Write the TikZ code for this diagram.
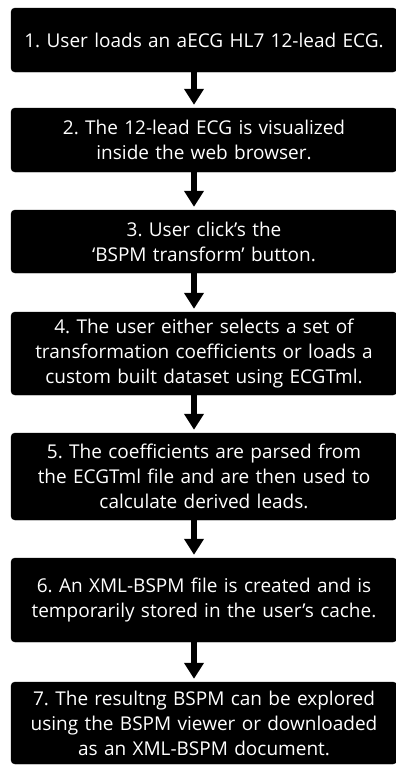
\documentclass[tikz,border=0pt]{standalone}
\usepackage{fontspec}
\setmainfont{Open Sans}
\usepackage{tikz}
\usetikzlibrary{arrows.meta}

\tikzset{
  stepbox/.style={rectangle,rounded corners=4pt,fill=black,draw=black,text=white,
    minimum width=386pt,text width=376pt,align=center,inner sep=0pt,
    font=\fontsize{19}{25}\selectfont\frenchspacing},
  flowarrow/.style={draw=black,line width=6.5pt,
    -{Triangle[width=19pt,length=16pt]},shorten >=3pt}
}

\begin{document}
\begin{tikzpicture}[x=1pt,y=1pt]
\useasboundingbox (0,0) rectangle (396,-766);
\node[stepbox,minimum height=64pt] (s1) at (204,-40) {1. User loads an aECG HL7 12-lead ECG.};
\node[stepbox,minimum height=64pt] (s2) at (204,-140) {2. The 12-lead ECG is visualized\\inside the web browser.};
\node[stepbox,minimum height=63pt] (s3) at (204,-241.5) {3. User click's the\\`BSPM transform' button.};
\node[stepbox,minimum height=83pt] (s4) at (204,-353.5) {4. The user either selects a set of\\transformation coefficients or loads a\\custom built dataset using ECGTml.};
\node[stepbox,minimum height=87pt] (s5) at (204,-476.5) {5. The coefficients are parsed from\\the ECGTml file and are then used to\\calculate derived leads.};
\node[stepbox,minimum height=84pt] (s6) at (204,-600) {6. An XML-BSPM file is created and is\\temporarily stored in the user's cache.};
\node[stepbox,minimum height=82pt] (s7) at (204,-723) {7. The resultng BSPM can be explored\\using the BSPM viewer or downloaded\\as an XML-BSPM document.};
% arrows between the steps
\foreach \a/\b in {s1/s2,s2/s3,s3/s4,s4/s5,s5/s6,s6/s7}
  \draw[flowarrow] ([xshift=-10pt]\a.south) -- ([xshift=-10pt]\b.north);
\end{tikzpicture}
\end{document}
